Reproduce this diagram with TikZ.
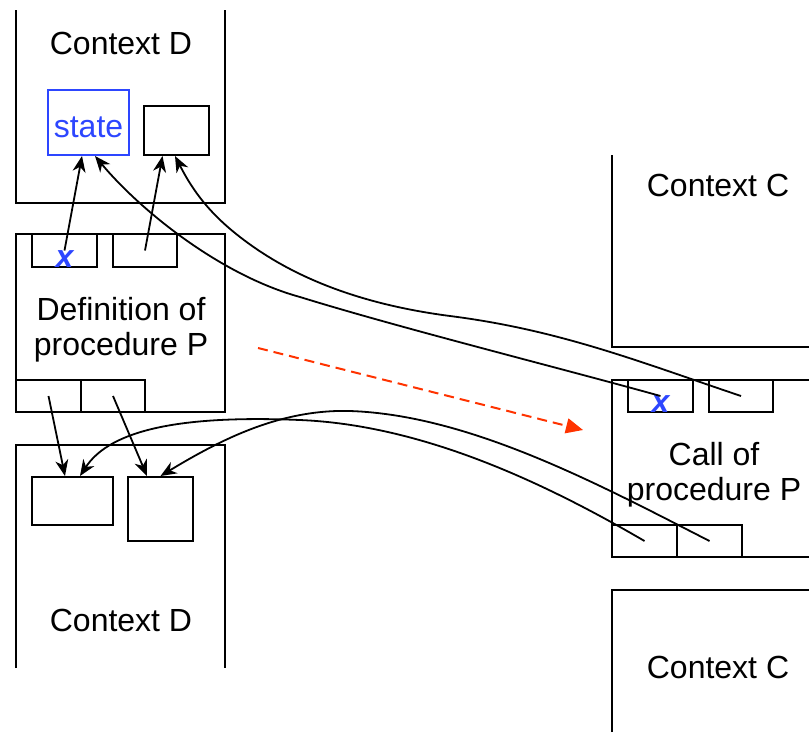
\documentclass[tikz,border=0pt]{standalone}
\usepackage{fontspec}
\setmainfont{Liberation Sans}
\usetikzlibrary{arrows.meta}
\definecolor{stateblue}{RGB}{45,70,255}
\definecolor{flowred}{RGB}{255,51,0}
\begin{document}
\begin{tikzpicture}[
x=1pt,y=-1pt,
every node/.style={font=\fontsize{32}{35}\selectfont,inner sep=0pt},
frame/.style={line width=2pt},
box/.style 2 args={draw,line width=2pt,minimum width=#1,minimum height=#2},
xmark/.style={font=\fontsize{32}{32}\selectfont\bfseries\itshape,text=stateblue,anchor=south},
link/.style={line width=1.8pt,-{Stealth[length=16pt,width=13pt,inset=5pt]}},
]
\useasboundingbox (0,0) rectangle (809,732);

% upper context D
\draw[frame] (16,10) |- (225,203) -- (225,10);
\node (ctxDup) at (121,43) {Context D};
\node[box={81}{65},draw=stateblue,text=stateblue,text height=29pt,text depth=0pt] (state) at (88.5,122.5) {state};
\node[box={65}{49}] (cell) at (176.5,130.5) {};

% definition of P
\node[box={209}{178}] (defP) at (120.5,323) {};
\node[box={65}{33}] (defx) at (64.5,250.5) {};
\node[xmark] (defxl) at (defx.south) {x};
\node[box={64}{33}] (defy) at (145,250.5) {};
\node[align=center] (deftext) at (121,330) {Definition of\\procedure P};
\node[box={65}{32}] (defa) at (48.5,396) {};
\node[box={64}{32}] (defb) at (113,396) {};

% lower context D
\draw[frame] (16,668) |- (225,445) -- (225,668);
\node[box={81}{48}] (boxA) at (72.5,501) {};
\node[box={65}{64}] (boxB) at (160.5,509) {};
\node (ctxDlow) at (121,620) {Context D};

% context C and the call
\draw[frame] (612,155) |- (809,347);
\node (ctxCup) at (718,185) {Context C};
\draw[frame] (809,380) -| (612,557) -- (809,557);
\node[box={65}{32}] (callx) at (660.5,396) {};
\node[xmark] (callxl) at (callx.south) {x};
\node[box={64}{32}] (cally) at (741,396) {};
\node[align=center] (calltext) at (714,475) {Call of\\procedure P};
\node[box={65}{32}] (calla) at (644.5,541) {};
\node[box={65}{32}] (callb) at (709.5,541) {};
\draw[frame] (612,732) |- (809,590);
\node (ctxClow) at (718,667) {Context C};

% bindings
\draw[link] (defx.center) -- ([xshift=-6.5pt]state.south);
\draw[link] (defy.center) -- ([xshift=-14pt]cell.south);
\draw[link] (defa.center) -- ([xshift=-7.5pt]boxA.north);
\draw[link] (defb.center) -- ([xshift=-13.5pt]boxB.north);
\draw[link] (callx.center) .. controls (560,368) and (400,328) .. (300,297)
  .. controls (220,275) and (140,210) .. ([xshift=6.5pt]state.south);
\draw[link] (cally.center) .. controls (640,362) and (560,330) .. (450,316)
  .. controls (350,303) and (285,272) .. (240,237)
  .. controls (205,210) and (190,185) .. ([xshift=-1.5pt]cell.south);
\draw[link] (calla.center) .. controls (540,480) and (420,425) .. (300,420)
  .. controls (180,415) and (110,430) .. ([xshift=7.5pt]boxA.north);
\draw[link] (callb.center) .. controls (600,485) and (470,415) .. (350,411)
  .. controls (280,409) and (220,440) .. (boxB.north);

% the call moves over
\coordinate (from) at (258,348);
\coordinate (to) at (583,430);
\draw[flowred,line width=2pt,dash pattern=on 10pt off 6pt,-{Triangle[length=17pt,width=15pt]}] (from) -- (to);
\end{tikzpicture}
\end{document}
